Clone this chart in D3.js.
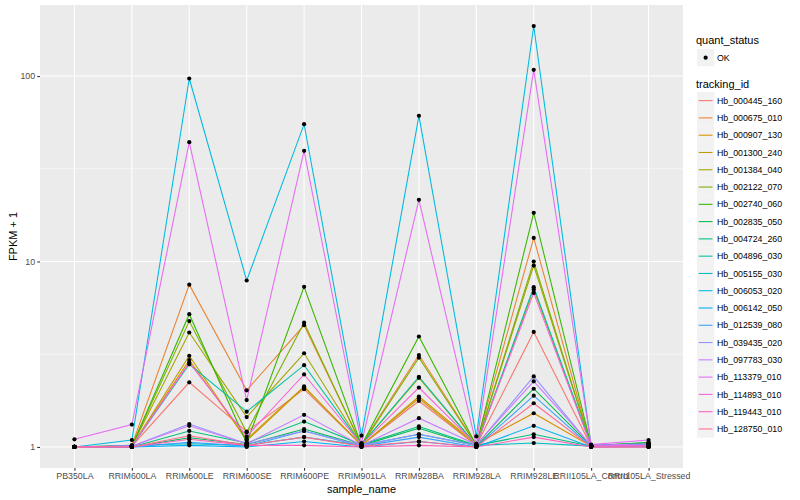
<!DOCTYPE html>
<html><head><meta charset="utf-8">
<script src="https://cdn.jsdelivr.net/npm/d3@7"></script>
<style>body{margin:0;background:#fff}svg{display:block;font-family:"Liberation Sans",Arial,sans-serif}</style>
</head><body><svg id="c" width="800" height="500"></svg>
<script>
const samples = ["PB350LA","RRIM600LA","RRIM600LE","RRIM600SE","RRIM600PE","RRIM901LA","RRIM928BA","RRIM928LA","RRIM928LE","RRII105LA_Control","RRII105LA_Stressed"];
const trackingIds = ["Hb_000445_160","Hb_000675_010","Hb_000907_130","Hb_001300_240","Hb_001384_040","Hb_002122_070","Hb_002740_060","Hb_002835_050","Hb_004724_260","Hb_004896_030","Hb_005155_030","Hb_006053_020","Hb_006142_050","Hb_012539_080","Hb_039435_020","Hb_097783_030","Hb_113379_010","Hb_114893_010","Hb_119443_010","Hb_128750_010"];
const hb000445_160 = [1.00,1.01,2.23,1.21,2.05,1.02,1.77,1.02,4.17,1.01,1.01];
const hb000675_010 = [1.00,1.02,7.5,2.02,4.53,1.03,3.13,1.03,13.4,1.01,1.02];
const hb000907_130 = [1.00,1.01,2.94,1.10,2.12,1.02,1.87,1.04,1.52,1.01,1.01];
const hb001300_240 = [1.00,1.01,3.1,1.08,2.10,1.02,1.83,1.02,7.07,1.02,1.02];
const hb001384_040 = [1.00,1.01,4.14,1.45,3.2,1.03,2.36,1.02,9.5,1.02,1.03];
const hb002122_070 = [1.00,1.01,4.77,1.2,4.68,1.02,3.03,1.02,10.0,1.02,1.04];
const hb002740_060 = [1.00,1.01,5.2,1.05,7.3,1.02,3.94,1.02,18.3,1.02,1.05];
const hb002835_050 = [1.00,1.00,1.12,1.03,1.25,1.02,1.26,1.01,2.06,1.01,1.06];
const hb004724_260 = [1.00,1.00,1.22,1.05,1.37,1.03,1.29,1.02,1.17,1.01,1.03];
const hb004896_030 = [1.00,1.01,2.79,1.55,2.76,1.03,2.39,1.02,7.27,1.02,1.03];
const hb005155_030 = [1.00,1.02,1.04,1.02,1.13,1.02,1.17,1.02,1.05,1.01,1.01];
const hb006053_020 = [1.00,1.09,97,7.9,55,1.15,61,1.14,186,1.02,1.03];
const hb006142_050 = [1.00,1.00,1.02,1.00,1.07,1.00,1.07,1.00,1.30,1.00,1.00];
const hb012539_080 = [1.00,1.00,1.06,1.01,1.22,1.01,1.13,1.00,1.89,1.00,1.01];
const hb039435_020 = [1.00,1.01,1.33,1.04,1.22,1.02,1.17,1.02,2.40,1.01,1.02];
const hb097783_030 = [1.00,1.01,1.30,1.04,1.49,1.02,1.43,1.03,2.26,1.02,1.04];
const hb113379_010 = [1.10,1.32,44,1.79,39.5,1.05,21.5,1.03,108,1.03,1.09];
const hb114893_010 = [1.00,1.01,2.85,1.14,2.46,1.03,2.09,1.03,6.77,1.01,1.02];
const hb119443_010 = [1.00,1.00,1.10,1.02,1.02,1.00,1.02,1.00,1.13,1.00,1.00];
const hb128750_010 = [1.00,1.00,1.15,1.02,1.13,1.01,1.07,1.00,1.72,1.00,1.00];
const seriesValues = [hb000445_160,hb000675_010,hb000907_130,hb001300_240,hb001384_040,hb002122_070,hb002740_060,hb002835_050,hb004724_260,hb004896_030,hb005155_030,hb006053_020,hb006142_050,hb012539_080,hb039435_020,hb097783_030,hb113379_010,hb114893_010,hb119443_010,hb128750_010];
const palette = ["#F8766D","#EA8331","#D89000","#C09B00","#A3A500","#7CAE00","#39B600","#00BB4E","#00BF7D","#00C1A3","#00BFC4","#00BAE0","#00B0F6","#35A2FF","#9590FF","#C77CFF","#E76BF3","#FA62DB","#FF62BC","#FF6C91"];
const yTicks = [1,10,100];
const yMinor = [Math.pow(10,0.5),Math.pow(10,1.5)];
const statusLevels = ["OK"];

const svg = d3.select("#c");
const P = {l:40, r:683, t:5, b:468};
const all = seriesValues.flat();
const lmin = Math.log10(d3.min(all)), lmax = Math.log10(d3.max(all));
const pad = (lmax-lmin)*0.05;
const y = d3.scaleLog().domain([Math.pow(10,lmin-pad), Math.pow(10,lmax+pad)]).range([P.b,P.t]);
const x = d3.scalePoint().domain(samples).range([P.l,P.r]).padding(0.6);
const color = d3.scaleOrdinal().domain(trackingIds).range(palette);

svg.append("rect").attr("x",P.l).attr("y",P.t).attr("width",P.r-P.l).attr("height",P.b-P.t).attr("fill","#EBEBEB");
const g = svg.append("g");
yMinor.forEach(v=>g.append("line").attr("x1",P.l).attr("x2",P.r).attr("y1",y(v)).attr("y2",y(v)).attr("stroke","#fff").attr("stroke-width",0.53));
yTicks.forEach(v=>g.append("line").attr("x1",P.l).attr("x2",P.r).attr("y1",y(v)).attr("y2",y(v)).attr("stroke","#fff").attr("stroke-width",1.07));
samples.forEach(s=>g.append("line").attr("x1",x(s)).attr("x2",x(s)).attr("y1",P.t).attr("y2",P.b).attr("stroke","#fff").attr("stroke-width",1.07));

const line = d3.line().x((d,i)=>x(samples[i])).y(d=>y(d));
seriesValues.forEach((vals,k)=>{
  svg.append("path").attr("d",line(vals)).attr("fill","none").attr("stroke",color(trackingIds[k])).attr("stroke-width",1.07);
});
seriesValues.forEach((vals)=>{
  vals.forEach((v,i)=>svg.append("circle").attr("cx",x(samples[i])).attr("cy",y(v)).attr("r",2.1).attr("fill","#000"));
});

// axes
const ya = svg.append("g").attr("transform",`translate(${P.l},0)`).call(d3.axisLeft(y).tickValues(yTicks).tickFormat(d3.format("d")).tickSize(2.75).tickPadding(2.2));
const xa = svg.append("g").attr("transform",`translate(0,${P.b})`).call(d3.axisBottom(x).tickSize(2.75).tickPadding(2.2));
[ya,xa].forEach(a=>{a.select(".domain").remove();a.selectAll(".tick line").attr("stroke","#333").attr("stroke-width",1.07);a.selectAll(".tick text").attr("fill","#4D4D4D").attr("font-size","8.8px").attr("font-family","Liberation Sans, Arial, sans-serif");});
svg.append("text").attr("x",(P.l+P.r)/2).attr("y",493).attr("text-anchor","middle").attr("font-size","11px").attr("fill","#000").text("sample_name");
svg.append("text").attr("transform",`translate(17,${(P.t+P.b)/2}) rotate(-90)`).attr("text-anchor","middle").attr("font-size","11px").attr("fill","#000").text("FPKM + 1");

// legends
const LX = 697;
svg.append("text").attr("x",LX-1).attr("y",44).attr("font-size","11px").text("quant_status");
statusLevels.forEach((s,i)=>{
  const yy = 49 + i*17.28;
  svg.append("rect").attr("x",LX).attr("y",yy).attr("width",17.28).attr("height",17.28).attr("fill","#F2F2F2");
  svg.append("circle").attr("cx",LX+8.64).attr("cy",yy+8.64).attr("r",2.1).attr("fill","#000");
  svg.append("text").attr("x",LX+20).attr("y",yy+11.8).attr("font-size","8.8px").text(s);
});
svg.append("text").attr("x",LX-1).attr("y",88).attr("font-size","11px").text("tracking_id");
trackingIds.forEach((t,i)=>{
  const yy = 92 + i*17.28;
  svg.append("rect").attr("x",LX).attr("y",yy).attr("width",17.28).attr("height",17.28).attr("fill","#F2F2F2");
  svg.append("line").attr("x1",LX+1.7).attr("x2",LX+15.5).attr("y1",yy+8.64).attr("y2",yy+8.64).attr("stroke",color(t)).attr("stroke-width",1.07);
  svg.append("text").attr("x",LX+20).attr("y",yy+11.8).attr("font-size","8.8px").text(t);
});
</script></body></html>
